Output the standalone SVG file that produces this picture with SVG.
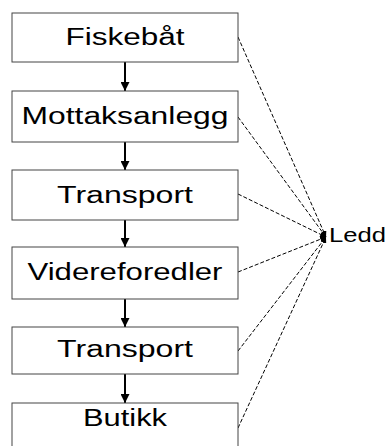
<svg xmlns="http://www.w3.org/2000/svg" width="387" height="446" viewBox="0 0 387 446">
<style>
.box{fill:#fff;stroke:#444;stroke-width:1}
.lbl{font-family:"Liberation Sans",Arial,sans-serif;font-size:23px;fill:#000;text-anchor:middle}
.flow{stroke:#000;stroke-width:2;fill:none}
.dash{stroke:#000;stroke-width:1;stroke-dasharray:4,2;fill:none}
</style>
<defs>
<marker id="ah" viewBox="0 0 10 10" refX="10" refY="5" markerUnits="userSpaceOnUse" markerWidth="9" markerHeight="9" orient="auto">
<path d="M0,0 L10,5 L0,10 z" fill="#000"/>
</marker>
<marker id="ahs" viewBox="0 0 10 10" refX="10" refY="5" markerUnits="userSpaceOnUse" markerWidth="6" markerHeight="6" orient="auto">
<path d="M0,0 L10,5 L0,10 z" fill="#000"/>
</marker>
</defs>
<rect width="387" height="446" fill="#fff"/>
<g id="connectors">
<line class="flow" x1="125" y1="62" x2="125" y2="91" marker-end="url(#ah)"/>
<line class="flow" x1="125" y1="142" x2="125" y2="170" marker-end="url(#ah)"/>
<line class="flow" x1="125" y1="220" x2="125" y2="247" marker-end="url(#ah)"/>
<line class="flow" x1="125" y1="299" x2="125" y2="327" marker-end="url(#ah)"/>
<line class="flow" x1="125" y1="374" x2="125" y2="403" marker-end="url(#ah)"/>
<line class="dash" x1="238" y1="37" x2="326" y2="237" marker-end="url(#ahs)"/>
<line class="dash" x1="238" y1="117" x2="326" y2="237" marker-end="url(#ahs)"/>
<line class="dash" x1="238" y1="194" x2="326" y2="237" marker-end="url(#ahs)"/>
<line class="dash" x1="238" y1="272" x2="326" y2="237" marker-end="url(#ahs)"/>
<line class="dash" x1="238" y1="351" x2="326" y2="237" marker-end="url(#ahs)"/>
<line class="dash" x1="238" y1="428" x2="326" y2="237" marker-end="url(#ahs)"/>
</g>
<g id="n1"><rect class="box" x="12" y="13" width="226" height="49"/><text class="lbl" x="125" y="45" textLength="119" lengthAdjust="spacingAndGlyphs">Fiskebåt</text></g>
<g id="n2"><rect class="box" x="12" y="91" width="226" height="51"/><text class="lbl" x="125" y="124" textLength="207" lengthAdjust="spacingAndGlyphs">Mottaksanlegg</text></g>
<g id="n3"><rect class="box" x="12" y="170" width="226" height="50"/><text class="lbl" x="125" y="203" textLength="136" lengthAdjust="spacingAndGlyphs">Transport</text></g>
<g id="n4"><rect class="box" x="12" y="247" width="226" height="52"/><text class="lbl" x="125" y="280" textLength="195" lengthAdjust="spacingAndGlyphs">Videreforedler</text></g>
<g id="n5"><rect class="box" x="12" y="327" width="226" height="47"/><text class="lbl" x="125" y="357" textLength="136" lengthAdjust="spacingAndGlyphs">Transport</text></g>
<g id="n6"><rect class="box" x="12" y="403" width="226" height="50"/><text class="lbl" x="125" y="426" textLength="84" lengthAdjust="spacingAndGlyphs">Butikk</text></g>
<g id="ledd"><text x="329" y="242" style="font-family:'Liberation Sans',Arial,sans-serif;font-size:19.5px;fill:#000" textLength="57" lengthAdjust="spacingAndGlyphs">Ledd</text></g>
</svg>
